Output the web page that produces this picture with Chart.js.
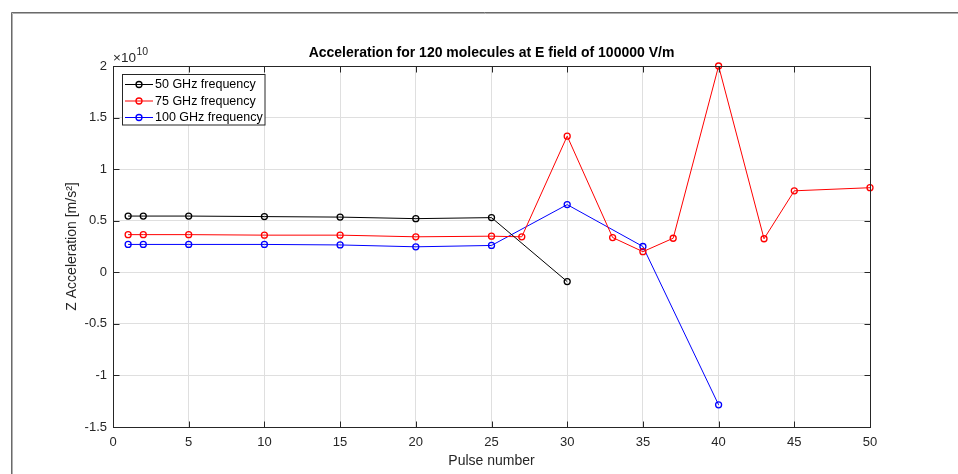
<!DOCTYPE html>
<html>
<head>
<meta charset="utf-8">
<script src="https://cdn.jsdelivr.net/npm/chart.js@4/dist/chart.umd.min.js"></script>
<style>
  html, body { margin: 0; padding: 0; background: #ffffff; }
  #wrap { position: relative; width: 958px; height: 474px; }
</style>
</head>
<body>
<div id="wrap"><canvas id="c" width="958" height="474"></canvas></div>
<script>
// ---- Data (acceleration values in units of 1e10 m/s^2) ----
const chartTitle = 'Acceleration for 120 molecules at E field of 100000 V/m';
const xTitle = 'Pulse number';
const yTitle = 'Z Acceleration [m/s\u00B2]';
const yExponent = '10';

const seriesLabels = ['50 GHz frequency', '75 GHz frequency', '100 GHz frequency'];

const pulses50 = [1, 2, 5, 10, 15, 20, 25, 30];
const acc50    = [0.545, 0.545, 0.545, 0.54, 0.535, 0.52, 0.53, -0.09];

const pulses75 = [1, 2, 5, 10, 15, 20, 25, 27, 30, 33, 35, 37, 40, 43, 45, 50];
const acc75    = [0.365, 0.365, 0.365, 0.36, 0.36, 0.344, 0.35, 0.344, 1.32, 0.337, 0.20, 0.33, 2.0, 0.325, 0.79, 0.82];

const pulses100 = [1, 2, 5, 10, 15, 20, 25, 30, 35, 40];
const acc100    = [0.27, 0.27, 0.27, 0.27, 0.265, 0.247, 0.26, 0.656, 0.25, -1.285];

const xTicks = [0, 5, 10, 15, 20, 25, 30, 35, 40, 45, 50];
const yTicks = [-1.5, -1, -0.5, 0, 0.5, 1, 1.5, 2];

const seriesColors = ['#000000', '#ff0000', '#0000ff'];

// ---- Build ----
const FONT = '"Liberation Sans", Arial, Helvetica, sans-serif';
const AXIS = '#262626';
function pts(xs, ys) { return xs.map((x, i) => ({x: x, y: ys[i]})); }
const seriesData = [pts(pulses50, acc50), pts(pulses75, acc75), pts(pulses100, acc100)];

const datasets = seriesData.map((d, i) => ({
  label: seriesLabels[i],
  data: d,
  borderColor: seriesColors[i],
  backgroundColor: 'rgba(0,0,0,0)',
  borderWidth: 1,
  pointRadius: 3,
  pointHoverRadius: 3,
  pointBorderWidth: 1.3,
  pointBorderColor: seriesColors[i],
  pointBackgroundColor: 'rgba(0,0,0,0)',
  tension: 0,
  clip: 8
}));

const decorPlugin = {
  id: 'decor',
  afterDatasetsDraw(chart) {
    const ctx = chart.ctx;
    const a = chart.chartArea;
    const xs = chart.scales.x, ys = chart.scales.y;
    ctx.save();
    ctx.strokeStyle = AXIS;
    ctx.lineWidth = 1;
    const L = Math.round(a.left) + 0.5, R = Math.round(a.right) + 0.5;
    const T = Math.round(a.top) + 0.5, B = Math.round(a.bottom) + 0.5;
    // top and right box lines
    ctx.beginPath();
    ctx.moveTo(L, T); ctx.lineTo(R, T); ctx.lineTo(R, B);
    ctx.stroke();
    // inward ticks
    const TL = 6;
    ctx.beginPath();
    xTicks.forEach(v => {
      const px = Math.round(xs.getPixelForValue(v)) + 0.5;
      ctx.moveTo(px, B); ctx.lineTo(px, B - TL);
      ctx.moveTo(px, T); ctx.lineTo(px, T + TL);
    });
    yTicks.forEach(v => {
      const py = Math.round(ys.getPixelForValue(v)) + 0.5;
      ctx.moveTo(L, py); ctx.lineTo(L + TL, py);
      ctx.moveTo(R, py); ctx.lineTo(R - TL, py);
    });
    ctx.stroke();
    ctx.restore();
  },
  afterDraw(chart) {
    const ctx = chart.ctx;
    const a = chart.chartArea;
    ctx.save();
    // figure frame
    ctx.strokeStyle = '#6a6a6a';
    ctx.lineWidth = 1;
    ctx.beginPath();
    ctx.moveTo(11.5, 474); ctx.lineTo(11.5, 12.5); ctx.lineTo(958, 12.5);
    ctx.stroke();
    ctx.strokeStyle = '#b0b0b0';
    ctx.beginPath();
    ctx.moveTo(12.5, 474); ctx.lineTo(12.5, 13.5); ctx.lineTo(958, 13.5);
    ctx.stroke();

    // title
    ctx.fillStyle = '#000000';
    ctx.font = 'bold 14px ' + FONT;
    ctx.textAlign = 'center';
    ctx.textBaseline = 'middle';
    ctx.fillText(chartTitle, (a.left + a.right) / 2, 53);

    // exponent label
    ctx.fillStyle = AXIS;
    ctx.textAlign = 'left';
    ctx.textBaseline = 'alphabetic';
    ctx.font = '13.5px ' + FONT;
    const base = '\u00D710';
    ctx.fillText(base, a.left, 62);
    const w = ctx.measureText(base).width;
    ctx.font = '10.5px ' + FONT;
    ctx.fillText(yExponent, a.left + w + 0.5, 55);

    // legend
    const lx = 122.5, ly = 74.5, lw = 142.5, lh = 50.5;
    ctx.fillStyle = '#ffffff';
    ctx.fillRect(lx, ly, lw, lh);
    ctx.strokeStyle = AXIS;
    ctx.lineWidth = 1;
    ctx.strokeRect(lx, ly, lw, lh);
    const rows = [84.5, 101, 117.5];
    chart.data.datasets.forEach((ds, i) => {
      const y = rows[i];
      ctx.strokeStyle = ds.borderColor;
      ctx.lineWidth = 1;
      ctx.beginPath();
      ctx.moveTo(125, y); ctx.lineTo(153, y);
      ctx.stroke();
      ctx.lineWidth = 1.3;
      ctx.beginPath();
      ctx.arc(139, y, 3, 0, Math.PI * 2);
      ctx.stroke();
      ctx.fillStyle = '#000000';
      ctx.font = '12.5px ' + FONT;
      ctx.textAlign = 'left';
      ctx.textBaseline = 'middle';
      ctx.fillText(ds.label, 155, y + 0.5);
    });
    ctx.restore();
  }
};

new Chart(document.getElementById('c'), {
  type: 'line',
  data: { datasets: datasets },
  options: {
    responsive: false,
    animation: false,
    devicePixelRatio: 1,
    layout: { padding: { left: 60, top: 66, right: 88, bottom: 0 } },
    plugins: {
      legend: { display: false },
      title: { display: false },
      tooltip: { enabled: false }
    },
    scales: {
      x: {
        type: 'linear',
        min: 0, max: 50,
        afterFit(scale) { scale.height = 47; },
        afterBuildTicks(scale) { scale.ticks = xTicks.map(v => ({value: v})); },
        grid: { color: '#dfdfdf', drawTicks: false, lineWidth: 1 },
        border: { display: true, color: AXIS },
        ticks: { color: AXIS, font: { family: FONT, size: 13 }, padding: 8, maxRotation: 0,
                 callback: v => String(v) },
        title: { display: true, text: xTitle, color: AXIS, font: { family: FONT, size: 14 },
                 padding: { top: 4, bottom: 4 } }
      },
      y: {
        type: 'linear',
        min: -1.5, max: 2,
        afterFit(scale) { scale.width = 53; },
        afterBuildTicks(scale) { scale.ticks = yTicks.map(v => ({value: v})); },
        grid: { color: '#dfdfdf', drawTicks: false, lineWidth: 1 },
        border: { display: true, color: AXIS },
        ticks: { color: AXIS, font: { family: FONT, size: 13 }, padding: 6,
                 callback: v => String(Math.round(v * 10) / 10) },
        title: { display: true, text: yTitle, color: AXIS, font: { family: FONT, size: 14 },
                 padding: { top: 4, bottom: 4 } }
      }
    }
  },
  plugins: [decorPlugin]
});
</script>
</body>
</html>
